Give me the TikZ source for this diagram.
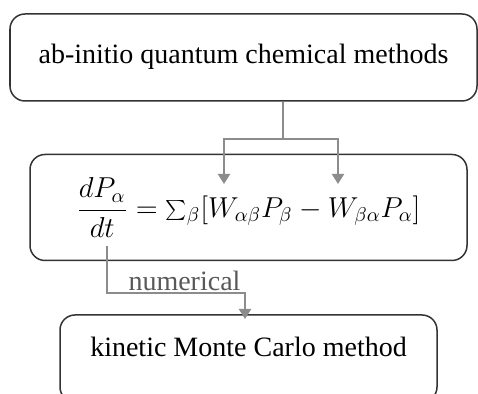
\documentclass[tikz,border=0pt]{standalone}
\usepackage{fontspec}
\setmainfont{Liberation Serif}
\usetikzlibrary{positioning,arrows.meta}
\definecolor{BoxLine}{RGB}{51,51,51}
\definecolor{LinkGray}{RGB}{140,140,140}
\definecolor{LabelGray}{RGB}{89,89,89}

\begin{document}
\begin{tikzpicture}[
x=0.5pt,y=-0.5pt,
node distance=26pt,
box/.style={draw=BoxLine,line width=0.75pt,rounded corners=7.5pt,minimum height=43.5pt,inner sep=0pt,font=\fontsize{14}{17}\selectfont},
link/.style={draw=LinkGray,line width=1pt,-{Triangle[width=6pt,length=5pt]}},
lbl/.style={font=\fontsize{14}{17}\selectfont,text=LabelGray,inner sep=0pt}
]
\useasboundingbox (0,0) rectangle (478,394);
\node[box,minimum width=233.5pt,text height=10pt,text depth=3.5pt] (abinitio) at (243.5,57.5) {ab-initio quantum chemical methods};
\node[box,minimum width=218.5pt,minimum height=53pt,below=of abinitio,xshift=2.5pt] (master) {$\displaystyle\frac{dP_\alpha}{dt}=\textstyle\sum_\beta[W_{\alpha\beta}P_\beta-W_{\beta\alpha}P_\alpha]$};
\node[box,minimum width=188.5pt,text height=10pt,text depth=11.5pt,below=26.5pt of master] (kmc) {kinetic Monte Carlo method};
% connectors
\coordinate (split) at (283,139);
\coordinate (tipL) at (224,184);
\coordinate (tipR) at (338,184);
\draw[LinkGray,line width=1pt] (abinitio.south -| split) -- (split);
\draw[link] (split) -| (tipL);
\draw[link] (split) -| (tipR);
\coordinate (tail) at (107,246);
\coordinate (bend) at (107,293);
\coordinate (tipK) at (245,319);
\draw[link] (tail) -- (bend) -| (tipK);
\node[lbl,anchor=base] (numlbl) at (184.5,291) {numerical};
\end{tikzpicture}
\end{document}
